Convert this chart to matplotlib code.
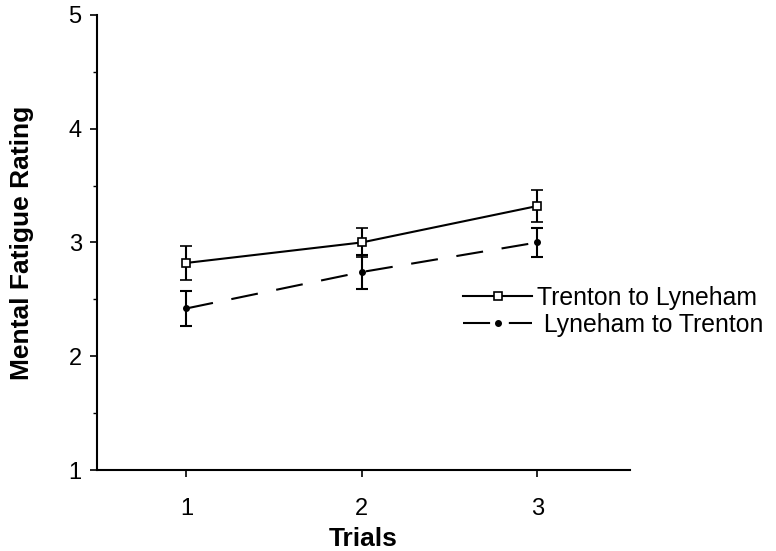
import numpy as np
import matplotlib.pyplot as plt
from matplotlib.ticker import MultipleLocator
from matplotlib.lines import Line2D

plt.rcParams['font.family'] = ['Liberation Sans', 'DejaVu Sans']

trials = [1, 2, 3]
t2l_mean = [2.82, 3.00, 3.32]
t2l_err = [0.15, 0.13, 0.14]
l2t_mean = [2.42, 2.74, 3.00]
l2t_err = [0.15, 0.15, 0.13]
labels = ['Trenton to Lyneham', ' Lyneham to Trenton']

fig = plt.figure(figsize=(7.76, 5.51), dpi=100)
ax = fig.add_axes([0.125, 0.147, 0.687, 0.826])

ax.errorbar(trials, t2l_mean, yerr=t2l_err, color='black', lw=1.5,
            marker='s', markersize=6, markerfacecolor='white', markeredgewidth=1.2,
            capsize=4, elinewidth=1.5, capthick=1.5)
ax.errorbar(trials, l2t_mean, yerr=l2t_err, color='black', lw=1.5,
            dashes=(13, 9), marker='o', markersize=4,
            capsize=4, elinewidth=1.5, capthick=1.5)

ax.set_xlim(0.49, 3.53)
ax.set_ylim(1, 5)
ax.set_xticks(trials)
ax.set_yticks([1, 2, 3, 4, 5])
ax.yaxis.set_minor_locator(MultipleLocator(0.5))
ax.tick_params(axis='both', which='major', labelsize=17, length=5, width=1.2, pad=6)
ax.tick_params(axis='y', which='minor', length=3, width=1)
ax.tick_params(axis='x', pad=15)

for side in ['top', 'right']:
    ax.spines[side].set_visible(False)
for side in ['left', 'bottom']:
    ax.spines[side].set_linewidth(1.5)

ax.set_xlabel('Trials', fontsize=19, fontweight='bold', labelpad=5)
ax.set_ylabel('Mental Fatigue Rating', fontsize=19, fontweight='bold', labelpad=25)

handles = [
    Line2D([], [], color='black', lw=1.5, marker='s', markersize=6,
           markerfacecolor='white', markeredgewidth=1.2),
    Line2D([], [], color='black', lw=1.5, dashes=(13, 9), marker='o', markersize=4),
]
fig.legend(handles, labels, loc='center left', bbox_to_anchor=(0.568, 0.435),
           frameon=False, fontsize=17.8, numpoints=1,
           handlelength=2.8, handletextpad=0.2, labelspacing=0.12)

fig.savefig('out.png', dpi=100)
